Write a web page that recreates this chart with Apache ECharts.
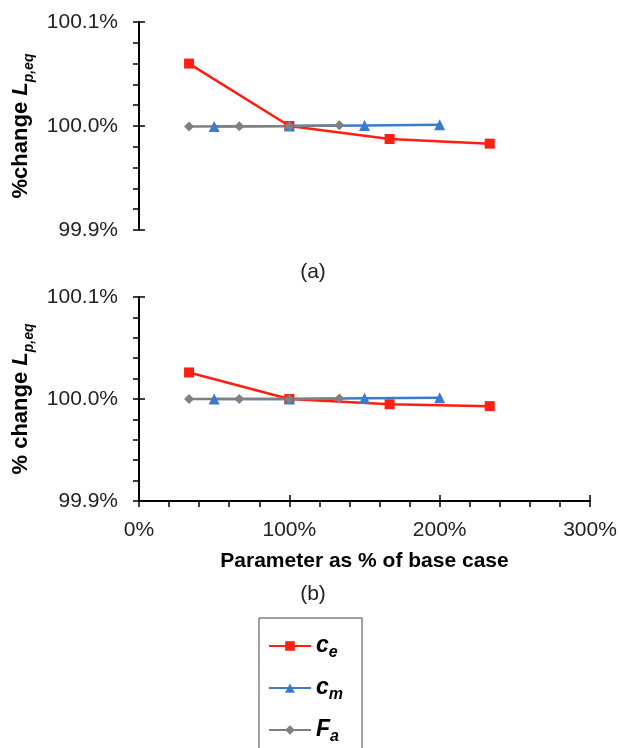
<!DOCTYPE html>
<html>
<head>
<meta charset="utf-8">
<script src="https://cdn.jsdelivr.net/npm/echarts@6/dist/echarts.min.js"></script>
<style>
html, body { margin: 0; padding: 0; background: #fff; }
#main { width: 620px; height: 748px; }
</style>
</head>
<body>
<div id="main"></div>
<script>
// x positions (% of base case) for each parameter
var xCe = [33.3, 100, 166.7, 233.3];
var xCm = [50, 100, 150, 200];
var xFa = [33.3, 66.7, 100, 133.3];

// (a) % change in Lp,eq
var ceA = [100.06, 100.0, 99.9875, 99.983];
var cmA = [99.9996, 100.0, 100.0006, 100.0012];
var faA = [99.9994, 99.9997, 100.0, 100.0008];

// (b) % change in Lp,eq
var ceB = [100.026, 100.0, 99.9948, 99.993];
var cmB = [100.0, 100.0, 100.0007, 100.0013];
var faB = [100.0, 100.0, 100.0, 100.0005];

var yTicks = [99.9, 100.0, 100.1];
var xTicks = [0, 100, 200, 300];

var FONT = '"Liberation Sans", Arial, sans-serif';
var RED = '#ff1e12', BLUE = '#3a7bd0', GRAY = '#808080';

function pairs(xs, ys) {
  return xs.map(function (x, i) { return [x, ys[i]]; });
}

var tickStyle = { color: '#000', width: 1.5 };

var yName = function (label) {
  return '{n|' + label + '}{l|L}{s|p,eq}';
};
var yRich = {
  n: { fontFamily: FONT, fontSize: 22, fontWeight: 'bold', color: '#000', lineHeight: 24, verticalAlign: 'top' },
  l: { fontFamily: FONT, fontSize: 22, fontWeight: 'bold', fontStyle: 'italic', color: '#000', lineHeight: 24, verticalAlign: 'top' },
  s: { fontFamily: FONT, fontSize: 14, fontWeight: 'bold', fontStyle: 'italic', color: '#000', lineHeight: 14, padding: [12, 0, 0, 0], verticalAlign: 'top' }
};

function mainY(grid, label) {
  return {
    gridIndex: grid, type: 'value', position: 'left',
    min: yTicks[0], max: yTicks[yTicks.length - 1], interval: 0.1,
    axisLine: { show: true, lineStyle: { color: '#000', width: 2 } },
    axisTick: { show: true, length: 6, lineStyle: tickStyle },
    minorTick: { show: true, splitNumber: 5, length: 6, lineStyle: tickStyle },
    splitLine: { show: false },
    axisLabel: {
      fontFamily: FONT, fontSize: 21, color: '#222', margin: 21,
      formatter: function (v) { return v.toFixed(1) + '%'; }
    },
    name: yName(label), nameLocation: 'middle', nameRotate: 90, nameGap: 96,
    nameTextStyle: { rich: yRich }
  };
}
function innerY(grid) {
  return {
    gridIndex: grid, type: 'value', position: 'left',
    min: yTicks[0], max: yTicks[yTicks.length - 1], interval: 0.1,
    axisLine: { show: false },
    axisTick: { show: true, inside: true, length: 6, lineStyle: tickStyle },
    axisLabel: { show: false },
    splitLine: { show: false }
  };
}

function lineSeries(name, xi, xs, ys, color, symbol, size) {
  return {
    name: name, type: 'line', xAxisIndex: xi, yAxisIndex: xi,
    data: pairs(xs, ys),
    symbol: symbol, symbolSize: size, showSymbol: true,
    lineStyle: { color: color, width: 2.5 },
    itemStyle: { color: color },
    emphasis: { disabled: true }
  };
}

var myChart = echarts.init(document.getElementById('main'));
var option = {
  animation: false,
  backgroundColor: '#fff',
  grid: [
    { left: 139, right: 30, top: 22, height: 208 },
    { left: 139, right: 30, top: 297, height: 204 }
  ],
  xAxis: [
    { gridIndex: 0, type: 'value', min: 0, max: 300, interval: 100, show: false },
    {
      gridIndex: 1, type: 'value', position: 'bottom', min: xTicks[0], max: xTicks[xTicks.length - 1], interval: 100,
      axisLine: { show: true, lineStyle: { color: '#000', width: 2 } },
      axisTick: { show: true, length: 6, lineStyle: tickStyle },
      minorTick: { show: true, splitNumber: 5, length: 6, lineStyle: tickStyle },
      splitLine: { show: false },
      axisLabel: { fontFamily: FONT, fontSize: 21, color: '#222', margin: 19, formatter: '{value}%' },
      name: 'Parameter as % of base case', nameLocation: 'middle', nameGap: 50,
      nameTextStyle: { fontFamily: FONT, fontSize: 21, fontWeight: 'bold', color: '#000' }
    },
    {
      gridIndex: 1, type: 'value', position: 'bottom', min: 0, max: 300, interval: 100,
      axisLine: { show: false },
      axisTick: { show: true, inside: true, length: 6, lineStyle: tickStyle },
      axisLabel: { show: false },
      splitLine: { show: false }
    }
  ],
  yAxis: [
    mainY(0, '%change '),
    mainY(1, '% change '),
    innerY(0),
    innerY(1)
  ],
  legend: {
    orient: 'vertical', left: 259, top: 618, height: 220,
    padding: [16, 19, 40, 9],
    itemGap: 15, itemWidth: 42, itemHeight: 12,
    borderColor: '#444', borderWidth: 1,
    data: ['ce', 'cm', 'Fa'],
    formatter: function (n) { return '{b|' + n.charAt(0) + '}{s|' + n.slice(1) + '}'; },
    textStyle: {
      rich: {
        b: { fontFamily: FONT, fontSize: 23, fontWeight: 'bold', fontStyle: 'italic', color: '#000', lineHeight: 24, verticalAlign: 'top' },
        s: { fontFamily: FONT, fontSize: 16, fontWeight: 'bold', fontStyle: 'italic', color: '#000', lineHeight: 16, padding: [11, 0, 0, 0], verticalAlign: 'top' }
      }
    }
  },
  graphic: [
    { type: 'text', x: 313, y: 272, style: { text: '(a)', font: '21px ' + FONT, fill: '#222', align: 'center', verticalAlign: 'middle' } },
    { type: 'text', x: 313, y: 594, style: { text: '(b)', font: '21px ' + FONT, fill: '#222', align: 'center', verticalAlign: 'middle' } }
  ],
  series: [
    lineSeries('ce', 0, xCe, ceA, RED, 'rect', 10),
    lineSeries('cm', 0, xCm, cmA, BLUE, 'triangle', 11),
    lineSeries('Fa', 0, xFa, faA, GRAY, 'diamond', 10),
    lineSeries('ce', 1, xCe, ceB, RED, 'rect', 10),
    lineSeries('cm', 1, xCm, cmB, BLUE, 'triangle', 11),
    lineSeries('Fa', 1, xFa, faB, GRAY, 'diamond', 10)
  ]
};
myChart.setOption(option);
</script>
</body>
</html>
